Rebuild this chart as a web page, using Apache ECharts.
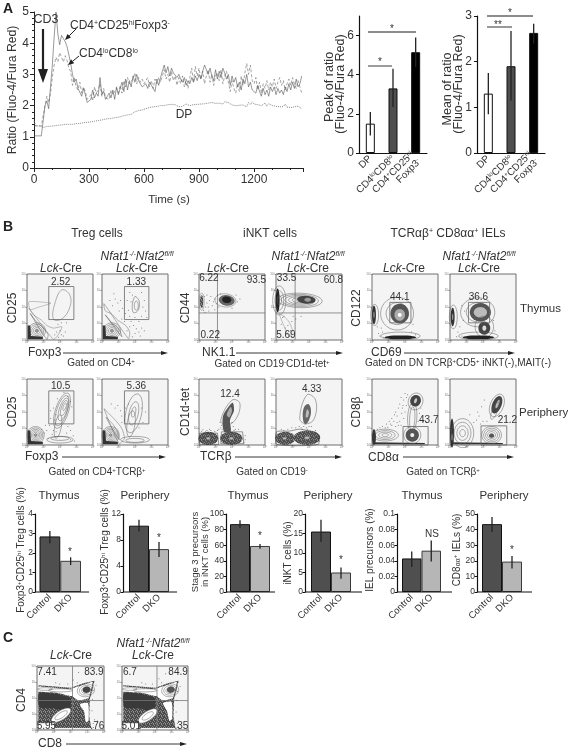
<!DOCTYPE html>
<html><head><meta charset="utf-8">
<style>html,body{margin:0;padding:0;background:#fff}#c{width:568px;height:750px}</style>
<script src="https://cdn.jsdelivr.net/npm/echarts@6/dist/echarts.min.js"></script>
</head><body><div id="c"></div>
<script>
// ---------- Panel A data ----------
const timeStep = 10;
const tregRatio = [1.03,1.03,1.03,1.03,1.03,1.03,2.0,2.15,1.9,2.6,
3.3,4.2,5.0,4.3,3.95,4.25,4.2,4.05,3.9,3.85,
3.35,3.0,2.75,2.85,2.55,2.6,2.3,2.55,2.35,2.1,
2.05,2.2,2.5,2.25,2.4,2.3,2.9,2.35,2.45,2.2,
2.15,2.4,2.25,2.5,2.2,2.6,2.35,2.3,2.75,2.45,
2.85,2.5,2.8,2.6,2.95,2.75,3.0,2.8,2.7,2.6,
2.65,2.7,2.55,2.75,2.65,2.6,2.45,2.85,2.65,2.9,
3.1,3.3,3.05,3.25,2.95,3.2,3.05,3.1,2.9,3.0,
2.85,2.75,2.9,2.65,2.8,2.7,2.9,2.75,2.95,2.8,
3.0,2.85,3.1,3.3,3.3,3.0,3.2,2.95,2.8,3.15,
2.85,3.1,2.9,3.2,3.05,2.85,3.0,2.65,2.95,2.75,
2.9,2.6,2.75,2.5,2.85,2.7,3.0,2.6,2.75,2.5,
2.55,2.4,2.65,2.45,2.3,2.55,2.35,2.5,2.3,2.6,
2.45,2.6,2.35,2.55,2.4,2.5,2.35,2.6,2.45,2.7,
2.5,2.75,2.55,2.85,2.6,2.7,2.95];
const loRatio = [1.35,1.4,1.35,1.3,1.35,1.4,2.0,2.3,2.1,2.4,
2.9,3.3,3.55,3.4,3.7,3.55,3.4,3.6,3.45,3.2,
3.1,2.65,2.9,2.6,2.5,2.75,2.4,2.6,2.45,2.2,
2.2,2.35,2.15,2.6,2.4,2.5,2.7,2.3,2.55,2.25,
2.3,2.2,2.5,2.35,2.3,2.55,2.4,2.65,2.4,2.8,
2.6,2.9,2.7,2.75,2.85,3.05,2.7,2.9,2.75,2.85,
2.7,2.75,2.9,2.6,2.8,2.55,2.85,2.7,2.9,2.75,
2.95,3.15,2.85,3.0,2.75,3.1,2.8,2.95,2.65,2.9,
2.7,2.95,2.6,2.85,2.55,2.9,3.2,2.75,3.25,2.95,
3.2,2.85,3.1,2.7,2.95,3.15,2.75,3.0,2.65,2.95,
3.05,2.8,3.15,2.7,2.95,3.1,2.75,2.45,2.8,2.55,
2.4,2.7,2.45,2.95,2.65,3.05,3.35,3.0,3.3,2.8,
2.7,2.9,2.5,2.75,2.4,2.7,2.55,2.8,2.5,2.75,
2.6,2.85,2.55,2.75,2.9,2.65,2.8,2.5,2.7,2.85,
2.65,2.9,2.7,2.55,2.8,2.6,2.4];
const dpRatio = [1.5,1.35,1.3,1.35,1.33,1.3,1.35,1.33,1.36,1.34,
1.38,1.35,1.4,1.37,1.4,1.38,1.42,1.4,1.43,1.4,
1.42,1.4,1.44,1.42,1.45,1.43,1.47,1.45,1.5,1.46,
1.5,1.48,1.53,1.5,1.55,1.52,1.56,1.54,1.6,1.57,
1.6,1.58,1.63,1.6,1.66,1.62,1.68,1.64,1.7,1.68,
1.72,1.7,1.76,1.72,1.78,1.8,1.76,1.84,1.8,1.86,
1.84,1.9,1.88,1.94,1.9,1.96,1.92,1.97,1.95,2.0,
1.96,2.0,1.98,2.03,2.0,2.04,1.98,2.03,2.0,1.96,
2.02,1.98,1.92,2.05,2.1,2.0,2.06,2.03,2.08,2.04,
2.1,2.05,2.1,2.06,2.03,2.08,2.04,2.1,2.05,2.07,
2.02,2.08,2.1,2.05,2.12,2.07,2.1,2.05,2.02,2.06,
2.0,2.04,2.01,1.97,2.02,1.99,1.96,2.1,2.03,2.12,
2.05,2.1,2.03,2.08,2.0,2.05,2.08,1.98,2.06,2.02,
2.0,2.06,1.98,2.04,1.96,2.02,1.97,2.05,1.95,2.0,
1.94,2.0,1.96,1.92,1.98,1.93,1.9];
const subsetCats = ['DP','CD4{s|lo}CD8{s|lo}','CD4{s|+}CD25{s|hi}\nFoxp3{s|-}'];
const peakValues = [1.5,3.3,5.15];
const peakErrors = [[0.9,2.1],[2.35,4.3],[4.4,5.9]];
const meanValues = [1.3,1.9,2.63];
const meanErrors = [[0.85,1.75],[1.15,2.67],[2.4,2.83]];
const subsetColors = ['#ffffff','#4f4f4f','#000000'];

// ---------- Panel B summary bars ----------
const koCats = ['Control','DKO'];
const tregThyVals = [2.85,1.6],  tregThyErr = [[2.5,3.13],[1.38,1.78]];
const tregPerVals = [10.2,6.6],  tregPerErr = [[9.3,11.1],[5.4,7.7]];
const stageVals   = [87,59],     stageErr   = [[82.5,92],[55.5,61.5]];
const inktVals    = [15.5,5],    inktErr    = [[12.8,18.5],[3.4,6.3]];
const ielVals     = [0.043,0.053], ielErr   = [[0.032,0.052],[0.039,0.066]];
const cd8Vals     = [43.5,19.5], cd8Err     = [[38.5,48],[15,23]];

// ---------- Flow plots: shapes in percent of the panel ----------
const ring = (cx,cy,rx,ry,a=0,fill=null,stroke='#5a5a5a',lw=.5)=>['e',cx,cy,rx,ry,a,fill,stroke,lw];
const blob = (cx,cy,rx,ry,a,fill)=>['e',cx,cy,rx,ry,a,fill,null,0];
const nest = (cx,cy,rx,ry,a,n,core)=>{const o=[];for(let i=0;i<n;i++){const f=1-i/n;o.push(ring(cx,cy,rx*f,ry*f,a,i==n-1?core:null));}return o;};
const poly = (pts,fill=null,stroke='#5a5a5a',smooth=0)=>['p',pts,fill,stroke,smooth];
const gate = (x0,y0,x1,y1)=>['r',x0,y0,x1,y1];
const seg  = (x0,y0,x1,y1)=>['l',x0,y0,x1,y1];
const txt  = (x,y,s)=>['t',x,y,s];
const corner = [poly([[1,1],[1,22],[5,22],[6,6],[24,5],[24,1]],'#333',null)];

const tregThyCtrl = [...nest(15,14,13,12,0,5,'#999'),...corner,
  poly([[3,58],[5,46],[18,50],[32,54],[36,56]],null,'#888',.2),
  poly([[3,48],[10,38],[22,30],[30,22],[40,18],[53,20],[46,6],[40,1]],null,'#777',.2),
  poly([[5,40],[14,28],[25,18],[32,8],[30,1]],null,'#555',.2),
  poly([[40,32],[43,58],[53,76],[65,68],[65,50],[53,32]],null,'#666',.4),
  gate(33,31,71,81),txt(51,88,'2.52')];
const tregThyCtrlDots = [[45,12],[52,8],[50,14],[48,4],[55,6],[42,8],[58,12],[47,24],[52,26],[60,26]];
const tregThyKo = [...nest(15,14,13,12,0,5,'#999'),...corner,
  poly([[3,55],[5,44],[14,40],[24,30],[36,22],[42,12],[40,2]],null,'#666',.2),
  poly([[5,38],[14,27],[26,16],[30,5]],null,'#555',.2),
  poly([[47,42],[46,54],[50,66],[56,60],[56,48],[52,42]],null,'#555',.3),ring(52,52,3,7),
  gate(34,31,71,81),txt(52,88,'1.33')];
const tregThyKoDots = [[20,62],[24,56],[28,60],[18,70],[26,44],[31,48],[36,40],[40,45],[42,36],[38,60],[42,72],[46,68],[60,72],[64,60],[66,44],[60,36],[50,34],[56,28],[44,28],[48,22],[52,17],[42,20],[56,12],[60,18],[50,10],[46,5],[58,6],[64,14],[30,32],[34,28],[38,14],[16,52],[12,60],[62,50],[44,58],[68,34]];
const tregPerCtrl = [...nest(13,15,13,13,0,6,'#999'),...corner,
  ring(50,10,14,3),ring(50,8,20,5),
  ring(53,52,10,28,-18),ring(53,52,8,24,-18),ring(55,54,6,18,-18),ring(56,56,4,12,-18),ring(57,58,2,6,-18),
  ring(47,28,5,18,-10),
  gate(33,32,71,82),txt(51,89,'10.5')];
const tregPerCtrlDots = [[30,22],[34,30],[28,30],[36,40],[42,38],[38,16],[32,10],[40,22],[44,46],[62,74],[66,66],[68,58],[62,28],[66,22],[70,14],[60,18],[26,18],[22,24],[46,70],[40,56],[36,52],[56,80],[44,20],[66,8],[72,6]];
const tregPerKo = [...nest(13,15,13,13,0,6,'#999'),...corner,
  poly([[3,55],[8,50],[20,38],[30,25],[34,10],[26,2]],null,'#666',.2),
  poly([[6,42],[16,32],[24,20],[26,8]],null,'#666',.2),
  ring(50,8,22,5),ring(50,7,14,3),
  ring(48,48,12,30,-12),ring(48,48,7,18,-12),ring(48,50,3,8,-12),ring(44,32,6,20,-8),
  gate(34,32,71,82),txt(52,89,'5.36')];
const tregPerKoDots = [[20,56],[28,52],[24,60],[36,56],[30,44],[34,38],[60,56],[66,50],[62,34],[40,62],[14,62],[56,26],[30,34]];
const nk11Ctrl = [seg(28,0,28,100),seg(0,41,100,41),
  blob(4,58,2.5,10,0,'S'),ring(4,58,4,13,0,null,'#777'),
  blob(42,60,12,8,-8,'#666'),blob(42,61,7,5,-8,'#222'),ring(40,60,16,10,-6,null,'#666'),
  txt(15,93,'6.22'),txt(87,91,'93.5'),txt(17,7,'0.22')];
const nk11CtrlDots = [[7,45],[8,66],[12,56],[14,50],[16,60],[18,66],[20,52],[22,58],[24,62],[26,55],[12,68],[10,50],[9,42],[15,44],[30,50],[33,70],[28,68],[58,58],[56,68],[62,62],[50,48],[24,46]];
const nk11Ko = [seg(29,0,29,100),seg(0,41,100,41),
  blob(2.5,60,3,18,0,'#222'),...nest(5,60,10,22,0,3,null),
  ...nest(36,60,34,11,-2,6,null),blob(46,61,14,6,-4,'#444'),blob(48,61,5,3,0,'#999'),
  poly([[5,40],[18,30],[25,15],[20,5]],null,'#888',.2),
  txt(16,93,'33.5'),txt(87,91,'60.8'),txt(15,7,'5.69')];
const nk11KoDots = [[12,36],[18,22],[8,24],[14,18],[24,28],[6,14],[26,36],[22,14],[16,10],[10,34],[30,32],[38,36],[24,6]];
const inktPerCtrl = [blob(14,10,15,10,0,'S'),...nest(14,10,12,8,0,4,'#bbb'),
  blob(49,10,17,10,0,'S'),...nest(49,10,14,8,0,4,'#bbb'),
  poly([[1,1],[1,18],[28,18],[30,1]],null,'#333'),
  poly([[33,2],[34,20],[66,20],[68,2]],null,'#333'),
  poly([[38,20],[36,42],[42,54],[51,64],[53,52],[47,38],[48,20]],'#555',null,.3),
  poly([[42,46],[48,58],[50,52],[46,42]],'#aaa',null,.3),
  poly([[33,38],[50,68],[62,63],[55,38],[40,30]],null,'#555',.4),
  txt(47,77,'12.4')];
const inktPerCtrlDots = [[34,30],[33,26],[52,28],[50,34],[30,24],[55,24],[28,22],[60,24],[42,26],[12,22],[18,22],[6,23],[70,8],[70,14],[32,34],[4,21],[10,20],[16,24],[24,21],[68,4],[35,24],[53,22]];
const inktPerKo = [blob(14,10,15,10,0,'S'),...nest(13,10,12,8,0,4,'#bbb'),
  blob(47,11,20,11,0,'S'),...nest(47,11,16,9,0,4,'#bbb'),
  poly([[1,1],[1,20],[20,21],[35,24],[48,22],[62,18],[64,1]],null,'#333',.2),
  poly([[41,38],[42,56],[49,62],[53,52],[50,38],[45,32]],'#666',null,.4),
  poly([[45,42],[47,54],[50,50],[48,42]],'#bbb',null,.3),
  poly([[36,40],[47,76],[60,68],[58,40],[46,32]],null,'#555',.4),
  txt(54,84,'4.33')];
const inktPerKoDots = [[42,28],[46,26],[38,26],[50,28],[44,32],[48,24],[40,24],[35,28],[54,28],[18,24],[24,26],[60,22],[66,6],[66,14],[30,26],[12,22],[8,24]];
const cd122Ctrl = [blob(3,38,3,14,0,'#333'),blob(3,38,1,5,0,'#999'),ring(4,38,6,16),
  ...nest(38,40,25,25,0,3,null),blob(42,40,14,15,0,'#555'),blob(42,38,8,9,0,'#aaa'),blob(42,38,3,3,0,'#fff'),
  blob(43,4,24,3,0,'#222'),ring(43,6,30,6),
  gate(27,26,59,57),txt(42,65,'44.1')];
const cd122CtrlDots = [[10,10],[14,18],[8,20],[12,6],[18,4],[16,12],[60,12],[66,8],[62,24]];
const cd122Ko = [blob(4,35,3,14,0,'#333'),blob(4,35,1,5,0,'#999'),ring(5,35,6,18),
  ...nest(42,42,26,22,0,3,null),blob(46,42,16,14,0,'#555'),blob(46,42,10,8,0,'#bbb'),
  blob(52,18,9,10,0,'#444'),blob(52,18,3,4,0,'#ddd'),ring(52,20,14,16),
  blob(43,4,24,3,0,'#222'),ring(43,6,30,6),
  gate(28,26,60,57),txt(43,65,'36.6')];
const cd122KoDots = [[12,12],[15,20],[10,5],[18,6],[66,30],[68,14],[20,30],[22,44],[18,52]];
const cd8Ctrl = [blob(3,12,3,12,0,'#333'),poly([[1,1],[80,1],[80,3],[1,4]],'#333',null),
  ...nest(20,15,20,9,0,4,null),
  ...nest(61,15,13,13,0,3,null),blob(61,15,10,10,0,'#555'),blob(61,15,3,3,0,'#eee'),
  ring(61,42,7,22,-3),ring(61,40,4,18,-3),
  blob(66,67,8,9,-20,'#444'),blob(66,67,2,4,-20,'#ccc'),ring(66,66,11,13,-20),
  gate(47,0,85,28),txt(86,37,'43.7')];
const cd8CtrlDots = [[42,62],[44,72],[48,68],[50,78],[52,60],[46,56],[40,56],[36,50],[38,44],[34,46],[30,40],[26,36],[22,32],[28,32],[33,36],[16,28],[20,26],[45,48],[48,40],[42,36],[40,30],[36,28],[50,50],[52,72],[54,76],[72,48],[74,56],[78,36],[70,36],[30,30],[24,27],[38,34],[44,30],[12,26],[8,24],[47,60]];
const cd8Ko = [blob(3,18,3,22,0,'#333'),blob(3,12,1,5,0,'#999'),poly([[1,1],[80,1],[80,3],[1,4]],'#333',null),
  ...nest(19,18,17,22,0,4,null),
  ...nest(63,15,15,13,0,5,'#fff'),blob(63,14,4,3,0,'#555'),
  blob(71,61,7,14,-22,'#444'),blob(72,62,2,7,-22,'#bbb'),ring(71,60,10,18,-22),ring(68,52,4,14,-22),
  gate(47,0,86,29),txt(87,37,'21.2')];
const cd8KoDots = [[42,50],[48,58],[40,38],[44,44],[36,34],[52,68],[50,36],[46,32],[56,36],[30,46]];
const cdOuter = [[2,70],[51,66],[69,73],[86,77],[79,49],[78,21],[81,3],[2,3]];
const cdDense = [[3,58],[31,56],[50,50],[50,36],[42,30],[26,34],[10,34],[3,36]];
const cdBand  = [[2,68],[45,64],[60,65],[58,53],[51,53],[31,58],[2,60]];
const cdDp    = [[52,64],[70,71],[83,75],[77,50],[62,46],[54,52]];
const cd4Ctrl = [poly(cdOuter,'S',null),poly(cdDense,'#3a3a3a',null,.2),
  poly(cdBand,'#fff',null,.1),poly(cdDp,'#fff',null,.1),
  poly([[64,40],[76,42],[77,15],[73,12],[70,30]],'#fff',null,.2),
  ring(36,23,17,7,35,'#fff'),ring(36,23,11,4,35),
  ring(12,64,11,2),ring(35,62,18,2.5),
  ...nest(73,62,13,10,10,4,null),blob(74,63,6,5,10,'#444'),
  seg(53,0,53,100),seg(0,46,100,46),
  ['b',2,1,26,11],txt(14,6,'5.95'),txt(15,90,'7.41'),txt(85,90,'83.9'),txt(90,6,'.76')];
const cd4CtrlDots = [[83,48],[84,62],[88,70],[82,30],[86,16],[84,10],[62,90],[54,78],[28,74],[34,72],[84,4],[90,14],[60,74],[46,72]];
const cd4Ko = [poly(cdOuter,'S',null),poly(cdDense,'#3a3a3a',null,.2),
  poly(cdBand,'#fff',null,.1),poly(cdDp,'#fff',null,.1),
  poly([[62,42],[75,44],[76,18],[72,14],[68,30]],'#fff',null,.2),
  ring(39,22,17,7,35,'#fff'),ring(39,22,10,4,35),
  ring(12,64,11,2),ring(35,62,18,2.5),
  ...nest(73,62,13,10,10,4,null),blob(74,63,6,5,10,'#555'),
  seg(53,0,53,100),seg(0,46,100,46),
  ['b',2,1,26,11],txt(14,6,'5.01'),txt(12,90,'6.7'),txt(85,90,'84.9'),txt(90,6,'.35')];
const cd4KoDots = [[83,46],[84,60],[88,68],[82,28],[86,14],[84,10],[66,88],[56,80],[30,74],[36,72],[84,4],[60,74],[46,72]];

const FONT='Liberation Sans', TC='#333';
const panels = [
 [27,274,66,66,tregThyCtrl,tregThyCtrlDots],[102,274,66,66,tregThyKo,tregThyKoDots],
 [27,379,66,66,tregPerCtrl,tregPerCtrlDots],[102,379,66,66,tregPerKo,tregPerKoDots],
 [199,274,66,66,nk11Ctrl,nk11CtrlDots],[276,274,66,66,nk11Ko,nk11KoDots],
 [199,379,66,66,inktPerCtrl,inktPerCtrlDots],[276,379,66,66,inktPerKo,inktPerKoDots],
 [372,274,66,66,cd122Ctrl,cd122CtrlDots],[450,274,66,66,cd122Ko,cd122KoDots],
 [372,379,66,66,cd8Ctrl,cd8CtrlDots],[450,379,66,66,cd8Ko,cd8KoDots],
 [37,666,67,64,cd4Ctrl,cd4CtrlDots],[122,666,66,64,cd4Ko,cd4KoDots]
];

// stipple texture used for the densely speckled flow regions
const stipple=(()=>{const rows=['#.##','##.#','.###','#.#.'];
  const cv=document.createElement('canvas');cv.width=cv.height=4;const x=cv.getContext('2d');
  rows.forEach((r,j)=>[...r].forEach((ch,i)=>{x.fillStyle=ch==='#'?'#4a4a4a':'#8c8c8c';x.fillRect(i,j,1,1);}));
  return {image:cv,repeat:'repeat'};})();
const paint=f=>f==='S'?stipple:(f||'none');

const grid=[],xAxis=[],yAxis=[],series=[],graphic=[];
const addGrid=(l,t,w,h,extra={})=>{grid.push(Object.assign({left:l,top:t,width:w,height:h,containLabel:false},extra));return grid.length-1;};

// ---- text helpers
function T(text,x,y,o={}){
  const size=o.size||12,sup=Math.max(6,Math.round(size*.62));
  const base={fontFamily:FONT,fontSize:size};
  graphic.push({type:'text',x,y,rotation:o.rot||0,silent:true,z:30,style:{
    text,fontFamily:FONT,fontSize:size,fontWeight:o.bold?'bold':'normal',fill:o.color||TC,
    align:o.align||'center',verticalAlign:'middle',
    rich:{s:{fontFamily:FONT,fontSize:sup,verticalAlign:'top',fill:o.color||TC},
          i:{...base,fontStyle:'italic',fill:o.color||TC},
          si:{fontFamily:FONT,fontSize:sup,fontStyle:'italic',verticalAlign:'top',fill:o.color||TC},
          b:{fontFamily:FONT,fontSize:sup+1,verticalAlign:'bottom',fill:o.color||TC}}}});
}
function Hline(x0,y0,x1,y1,color='#444',w=1){graphic.push({type:'line',silent:true,z:20,shape:{x1:x0,y1:y0,x2:x1,y2:y1},style:{stroke:color,lineWidth:w}});}
function Arrow(x0,y0,x1,y1,w=1,hl=8,hw=2.5,color='#222'){
  const d=Math.hypot(x1-x0,y1-y0),ux=(x1-x0)/d,uy=(y1-y0)/d,bx=x1-ux*hl,by=y1-uy*hl;
  Hline(x0,y0,bx,by,color,w);
  graphic.push({type:'polygon',silent:true,z:20,shape:{points:[[x1,y1],[bx-uy*hw,by+ux*hw],[bx+uy*hw,by-ux*hw]]},style:{fill:color}});
}

// ---- Panel A line chart
{
  const g=addGrid(34,12,269,156);
  xAxis.push({gridIndex:g,type:'value',min:0,max:1467,interval:300,
    axisLine:{lineStyle:{color:'#222',width:1}},axisTick:{length:4,lineStyle:{color:'#222'}},
    minorTick:{show:true,splitNumber:3,length:2,lineStyle:{color:'#222'}},splitLine:{show:false},minorSplitLine:{show:false},
    axisLabel:{fontSize:12,fontFamily:FONT,color:TC,margin:6,showMaxLabel:false,formatter:v=>String(v)}});
  yAxis.push({gridIndex:g,type:'value',min:0,max:5,interval:1,
    axisLine:{show:true,lineStyle:{color:'#222',width:1}},axisTick:{show:true,length:4,lineStyle:{color:'#222'}},
    minorTick:{show:true,splitNumber:5,length:2,lineStyle:{color:'#222'}},splitLine:{show:false},minorSplitLine:{show:false},
    axisLabel:{fontSize:12,fontFamily:FONT,color:TC,margin:5}});
  const line=(arr,type,color,w,name)=>series.push({name,type:'line',xAxisIndex:g,yAxisIndex:g,symbol:'none',silent:true,
    data:arr.map((v,i)=>[i*timeStep,v]),lineStyle:{type,color,width:w},animation:false});
  line(dpRatio,'dotted','#888',1,'DP');
  line(loRatio,[3,2],'#666',.6,'CD4loCD8lo');
  line(tregRatio,'solid','#555',.6,'Treg');
}
// ---- Panel A bars + generic bars
function Err(g,errs,color='#222',w=1.3){
  series.push({type:'custom',xAxisIndex:g,yAxisIndex:g,silent:true,z:5,animation:false,
    data:errs.map((e,i)=>[i,e[0],e[1]]),
    renderItem:(p,api)=>{const a=api.coord([api.value(0),api.value(1)]),b=api.coord([api.value(0),api.value(2)]);
      return {type:'line',shape:{x1:a[0],y1:a[1],x2:b[0],y2:b[1]},style:{stroke:color,lineWidth:w}};}});
}
function subsetBars(l,max,interval,vals,errs){
  const g=addGrid(l,16,68,137);
  xAxis.push({gridIndex:g,type:'category',data:subsetCats,axisTick:{show:false},
    axisLine:{lineStyle:{color:'#111',width:1.2}},
    axisLabel:{interval:0,rotate:45,fontSize:10,lineHeight:10,fontFamily:FONT,color:TC,margin:4,
      rich:{s:{fontSize:6,verticalAlign:'top',fontFamily:FONT,color:TC}}}});
  yAxis.push({gridIndex:g,type:'value',min:0,max,interval,splitLine:{show:false},
    axisLine:{show:true,lineStyle:{color:'#111',width:1.2}},axisTick:{show:true,length:3,lineStyle:{color:'#111'}},
    axisLabel:{fontSize:12,fontFamily:FONT,color:TC,margin:5,showMaxLabel:max%interval===0}});
  series.push({type:'bar',xAxisIndex:g,yAxisIndex:g,barWidth:9,silent:true,animation:false,
    data:vals.map((v,i)=>({value:v,itemStyle:{color:subsetColors[i],borderColor:'#111',borderWidth:1}}))});
  Err(g,errs);
}
subsetBars(359,7,2,peakValues,peakErrors);
subsetBars(477,3,1,meanValues,meanErrors);

function koBars(axisL,axisR,barL,barR,max,interval,vals,errs,fmt){
  const g=addGrid(barL,514,barR-barL,78);
  xAxis.push({gridIndex:g,type:'category',data:koCats,axisTick:{show:false},axisLine:{show:false},
    axisLabel:{interval:0,rotate:45,fontSize:9.5,fontFamily:FONT,color:TC,margin:4}});
  yAxis.push({gridIndex:g,type:'value',min:0,max,interval,offset:barL-axisL,splitLine:{show:false},
    axisLine:{show:true,lineStyle:{color:'#111',width:1.2}},axisTick:{show:true,length:2.5,lineStyle:{color:'#111'}},
    axisLabel:{fontSize:8.5,fontFamily:FONT,color:TC,margin:2,formatter:fmt}});
  series.push({type:'bar',xAxisIndex:g,yAxisIndex:g,barWidth:'100%',silent:true,animation:false,
    data:vals.map((v,i)=>({value:v,itemStyle:{color:i?'#b6b6b6':'#4f4f4f',borderColor:i?'#3a3a3a':'#111',borderWidth:1}}))});
  Err(g,errs);
  Hline(axisL,592,axisR,592,'#111',1.2);
}
koBars(35,89,39.5,81,4,1,tregThyVals,tregThyErr);
koBars(123,177,129,169,12,4,tregPerVals,tregPerErr);
koBars(226,275,230,270,100,20,stageVals,stageErr);
koBars(305,362,311,351,20,5,inktVals,inktErr);
koBars(397,452,402,441,0.1,0.02,ielVals,ielErr,v=>v===0?'0':String(+v.toFixed(2)));
koBars(477,532,482,522,50,10,cd8Vals,cd8Err);

// ---- flow plots
const decades=['10⁰','10¹','10²','10³','10⁴'];
panels.forEach(([l,t,w,h,shapes,dots])=>{
  const g=addGrid(l,t,w,h,{show:true,backgroundColor:'#f4f4f4',borderColor:'#6e6e6e',borderWidth:1});
  const ax={gridIndex:g,type:'value',min:0,max:100,interval:25,splitLine:{show:false},axisLine:{show:false},
    axisTick:{show:true,length:1.5,lineStyle:{color:'#666',width:.6}},
    axisLabel:{fontSize:3,color:'#777',margin:1,fontFamily:FONT,formatter:v=>decades[v/25]}};
  xAxis.push(ax);yAxis.push({...ax});
  series.push({type:'custom',xAxisIndex:g,yAxisIndex:g,silent:true,animation:false,clip:false,
    data:shapes.map((_,i)=>[i]),
    renderItem:(p,api)=>{
      const s=shapes[api.value(0)],c=q=>api.coord(q);
      if(s[0]==='e'){
        const [,cx,cy,rx,ry,a,fill,stroke,lw]=s,r=a*Math.PI/180,pts=[];
        for(let k=0;k<28;k++){const th=k/28*2*Math.PI,dx=rx*Math.cos(th),dy=ry*Math.sin(th);
          pts.push(c([cx+dx*Math.cos(r)-dy*Math.sin(r),cy+dx*Math.sin(r)+dy*Math.cos(r)]));}
        return {type:'polygon',shape:{points:pts},style:{fill:paint(fill),stroke:stroke||'none',lineWidth:lw||0}};
      }
      if(s[0]==='p')return {type:'polygon',shape:{points:s[1].map(c),smooth:s[4]||0},style:{fill:paint(s[2]),stroke:s[3]||'none',lineWidth:.5}};
      if(s[0]==='r'||s[0]==='b'){const a=c([s[1],s[2]]),b=c([s[3],s[4]]);
        return {type:'rect',shape:{x:a[0],y:b[1],width:b[0]-a[0],height:a[1]-b[1]},
          style:s[0]==='r'?{fill:'none',stroke:'#666',lineWidth:.8}:{fill:'#fff',stroke:'#555',lineWidth:.4}};}
      if(s[0]==='l'){const a=c([s[1],s[2]]),b=c([s[3],s[4]]);
        return {type:'line',shape:{x1:a[0],y1:a[1],x2:b[0],y2:b[1]},style:{stroke:'#777',lineWidth:.8}};}
      if(s[0]==='t'){const a=c([s[1],s[2]]);
        return {type:'text',x:a[0],y:a[1],style:{text:s[3],fill:TC,fontSize:10,fontFamily:FONT,align:'center',verticalAlign:'middle'}};}
    }});
  series.push({type:'scatter',xAxisIndex:g,yAxisIndex:g,symbolSize:1,silent:true,animation:false,data:dots,itemStyle:{color:'#444'}});
});

// ---- text: Panel A
T('A',3,9,{bold:true,size:14,align:'left',color:'#222'});
T('CD3',46,20,{size:12.5});
Arrow(43,29,43,83,2.2,14,5,'#222');
T('CD4{s|+}CD25{s|hi}Foxp3{s|-}',70,26,{align:'left'});
Arrow(76,29,65,40,1,6,2.5);
T('CD4{s|lo}CD8{s|lo}',79,54,{align:'left'});
Arrow(79,56,68,65,1,6,2.5);
T('DP',184,115);
T('Ratio (Fluo-4/Fura Red)',13,90,{rot:Math.PI/2,size:12.2});
T('Time (s)',169,200,{size:11.5});
T('Peak of ratio',330,87,{rot:Math.PI/2,size:12.5});
T('(Fluo-4/Fura Red)',341,84,{rot:Math.PI/2,size:12.5});
T('Mean of ratio',448,89,{rot:Math.PI/2,size:12.5});
T('(Fluo-4/Fura Red)',459,84,{rot:Math.PI/2,size:12.5});
Hline(368,32,416,32,'#666',1.3);T('*',392,29,{size:10});
Hline(368,66,392,66,'#666',1.3);T('*',380,62,{size:10});
Hline(487,16,533,16,'#666',1.3);T('*',510,13,{size:10});
Hline(487,27,512,27,'#333',1);T('**',498,25,{size:10});

// ---- text: Panel B
T('B',3,227,{bold:true,size:14,align:'left',color:'#222'});
T('Treg cells',97,234);T('iNKT cells',270,234);T('TCRαβ{s|+} CD8αα{s|+} IELs',448,234);
const lck='{i|Lck}-Cre', nfat='{i|Nfat1}{si|-/-}{i|Nfat2}{si|fl/fl}';
[[61,137],[228,308],[404,479]].forEach(([a,b])=>{T(lck,a,269);T(nfat,b,257);T(lck,b,269);});
T('CD25',13,308,{rot:Math.PI/2});T('Foxp3',28,353,{align:'left'});Arrow(63,353,168,353,.9,7,2);
T('Gated on CD4{s|+}',101,363,{size:10});
T('CD25',13,412,{rot:Math.PI/2});T('Foxp3',25,457,{align:'left'});Arrow(62,457,166,457,.9,7,2);
T('Gated on CD4{s|+}TCRβ{s|+}',97,472,{size:10});
T('CD44',186,308,{rot:Math.PI/2});T('NK1.1',202,353,{align:'left'});Arrow(236,353,343,353,.9,7,2);
T('Gated on CD19{s|-}CD1d-tet{s|+}',272,364,{size:10});
T('CD1d-tet',186,412,{rot:Math.PI/2});T('TCRβ',200,457,{align:'left'});Arrow(235,457,342,457,.9,7,2);
T('Gated on CD19{s|-}',272,472,{size:10});
T('CD122',357,308,{rot:Math.PI/2});T('CD69',371,353,{align:'left'});Arrow(404,353,515,353,.9,7,2);
T('Gated on DN TCRβ{s|+}CD5{s|+} iNKT(-),MAIT(-)',458,363,{size:10});
T('Thymus',520,309,{align:'left',size:11.5});
T('CD8β',357,412,{rot:Math.PI/2});T('CD8α',368,458,{align:'left'});Arrow(403,457,514,457,.9,7,2);
T('Gated on TCRβ{s|+}',443,472,{size:10});
T('Periphery',519,413,{align:'left',size:11.5});
[[59,'Thymus'],[145,'Periphery'],[248,'Thymus'],[328,'Periphery'],[422,'Thymus'],[504,'Periphery']].forEach(([x,s])=>T(s,x,496,{size:11.5}));
T('Foxp3{s|+}CD25{s|hi} Treg cells (%)',21,550,{rot:Math.PI/2,size:10});
T('Foxp3{s|+}CD25{s|hi} Treg cells (%)',105,552,{rot:Math.PI/2,size:10});
T('Stage 3 precursors',195,552,{rot:Math.PI/2,size:9.5});
T('in iNKT cells (%)',205,552,{rot:Math.PI/2,size:9.5});
T('iNKT cells (%)',288,553,{rot:Math.PI/2,size:10});
T('IEL precursors (%)',370,550,{rot:Math.PI/2,size:10});
T('CD8{b|αα}{s|+} IELs (%)',457,550,{rot:Math.PI/2,size:10});
[[70,552],[159,538],[260,536],[341,560],[512,550]].forEach(([x,y])=>T('*',x,y,{size:10}));
T('NS',432,534,{size:10});

// ---- text: Panel C
T('C',3,638,{bold:true,size:14,align:'left',color:'#222'});
T(lck,71,656);T(nfat,153,644);T(lck,153,656);
T('CD4',22,700,{rot:Math.PI/2});T('CD8',38,744,{align:'left'});Arrow(66,744,187,744,.9,7,2);

const chart=echarts.init(document.getElementById('c'),null,{renderer:'canvas',width:568,height:750});
chart.setOption({animation:false,backgroundColor:'#fff',textStyle:{fontFamily:FONT},grid,xAxis,yAxis,series,graphic:{elements:graphic}});
</script></body></html>
